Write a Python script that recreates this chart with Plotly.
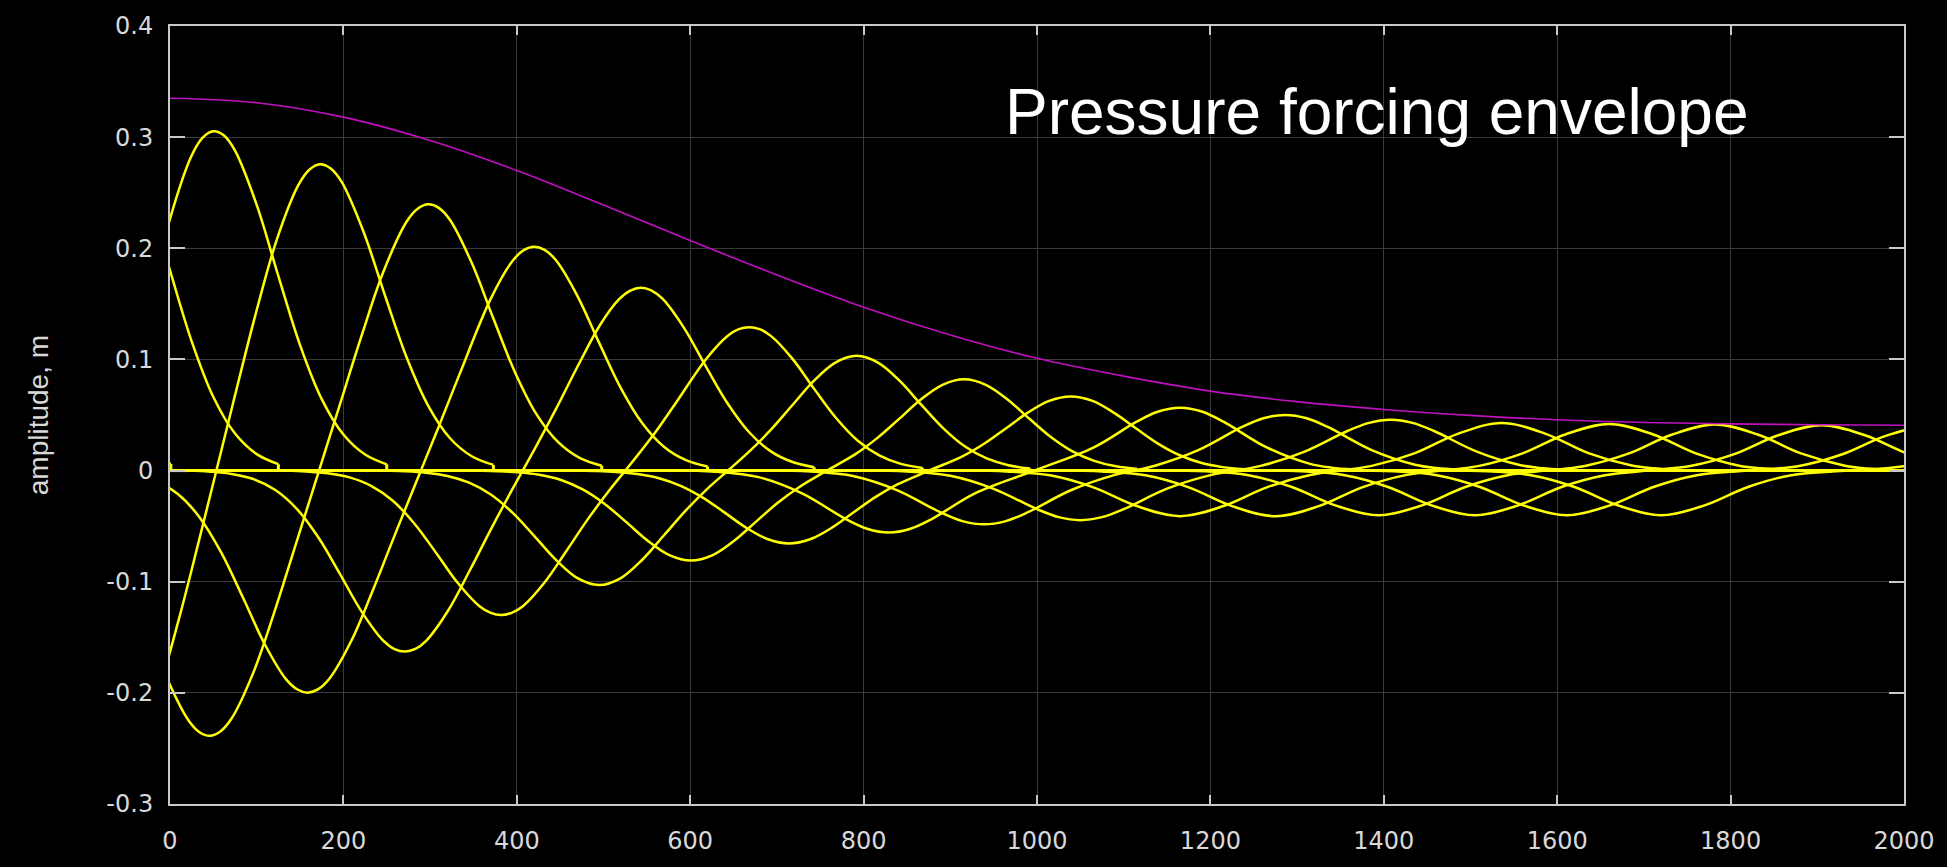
import plotly.graph_objects as go

# Axis ticks
x_ticks = [0, 200, 400, 600, 800, 1000, 1200, 1400, 1600, 1800, 2000]
x_tick_labels = ["0", "200", "400", "600", "800", "1000", "1200", "1400", "1600", "1800", "2000"]
y_ticks = [-0.3, -0.2, -0.1, 0.0, 0.1, 0.2, 0.3, 0.4]
y_tick_labels = ["-0.3", "-0.2", "-0.1", "0", "0.1", "0.2", "0.3", "0.4"]

# Pressure forcing envelope
env_x = [0, 100, 200, 300, 400, 500, 600, 700, 800, 900, 1000,
         1100, 1200, 1300, 1400, 1500, 1600, 1700, 1800, 1900, 2000]
env_y = [0.335, 0.331, 0.318, 0.297, 0.270, 0.239, 0.207, 0.176, 0.147, 0.122, 0.101,
         0.085, 0.0715, 0.062, 0.055, 0.0497, 0.0457, 0.0433, 0.0420, 0.0412, 0.0408]

# Surface snapshots: wave body of each time step (flat water added separately)
w00_x = [-249, -199, -149, -99, -49, -24, 1]
w00_y = [0.2492, 0.3200, 0.2492, 0.1177, 0.0337, 0.0150, 0.0059]

w01_x = [-125, -100, -75, -50, -25, 0, 25, 50, 75, 100, 125]
w01_y = [0.2461, 0.2969, 0.3160, 0.2969, 0.2461, 0.1801, 0.1163, 0.0662, 0.0333, 0.0148, 0.0058]

w02_x = [-125, -100, -75, -50, -25, 0, 25, 38, 50, 62, 75, 100, 125, 150, 175, 200, 225, 250]
w02_y = [-0.2121, -0.1309, -0.0396, 0.0546, 0.1460, 0.2265, 0.2835, 0.2998, 0.3053, 0.3017,
         0.2879, 0.2391, 0.1749, 0.1129, 0.0643, 0.0324, 0.0144, 0.0056]

w03_x = [-127, -102, -90, -77, -65, -53, -40, -15, 10, 35, 73, 98, 123, 148, 161, 173, 185, 198,
         223, 248, 273, 298, 323, 348, 373]
w03_y = [-0.1838, -0.2354, -0.2533, -0.2656, -0.2690, -0.2644, -0.2506, -0.2022, -0.1344,
         -0.0581, 0.0615, 0.1385, 0.2074, 0.2568, 0.2709, 0.2756, 0.2720, 0.2597, 0.2153,
         0.1575, 0.1017, 0.0580, 0.0291, 0.0129, 0.0051]

w04_x = [-204, -179, -154, -129, -104, -79, -54, -29, -4, 21, 34, 46, 58, 71, 96, 121, 146, 171,
         196, 221, 246, 273, 286, 298, 310, 323, 348, 373, 398, 423, 448, 473, 498]
w04_y = [0.0, -0.0015, -0.0044, -0.0112, -0.0252, -0.0501, -0.0879, -0.1362, -0.1861, -0.2244,
         -0.2354, -0.2386, -0.2348, -0.2231, -0.1820, -0.1257, -0.0641, -0.0023, 0.0596, 0.1214,
         0.1787, 0.2241, 0.2358, 0.2396, 0.2364, 0.2255, 0.1869, 0.1368, 0.0883, 0.0503, 0.0253,
         0.0112, 0.0044]

w05_x = [-91, -66, -41, -16, 9, 34, 59, 84, 109, 134, 147, 159, 171, 184, 209, 234, 259, 284,
         309, 334, 370, 395, 408, 420, 432, 445, 470, 495, 520, 545, 570, 595, 620]
w05_y = [0.0, -0.0013, -0.0037, -0.0094, -0.0211, -0.0419, -0.0736, -0.1140, -0.1558, -0.1879,
         -0.1970, -0.1998, -0.1967, -0.1871, -0.1534, -0.1076, -0.0585, -0.0102, 0.0377, 0.0868,
         0.1547, 0.1886, 0.1983, 0.2014, 0.1986, 0.1894, 0.1570, 0.1149, 0.0742, 0.0423, 0.0212,
         0.0094, 0.0037]

w06_x = [21, 46, 71, 96, 121, 146, 171, 196, 221, 246, 259, 271, 283, 296, 321, 346, 371, 396,
         421, 446, 471, 496, 518, 531, 543, 555, 568, 593, 618, 643, 668, 693, 718, 743]
w06_y = [0.0, -0.0010, -0.0030, -0.0076, -0.0172, -0.0342, -0.0600, -0.0929, -0.1269, -0.1531,
         -0.1607, -0.1629, -0.1605, -0.1527, -0.1257, -0.0895, -0.0515, -0.0152, 0.0200, 0.0566,
         0.0950, 0.1310, 0.1542, 0.1620, 0.1645, 0.1622, 0.1546, 0.1282, 0.0938, 0.0606, 0.0345,
         0.0173, 0.0077, 0.0030]

w07_x = [132, 157, 182, 207, 232, 257, 282, 307, 332, 357, 370, 382, 394, 407, 432, 457, 482,
         507, 532, 557, 582, 618, 643, 656, 668, 680, 693, 718, 743, 768, 793, 818, 843, 868]
w07_y = [0.0, -0.0008, -0.0024, -0.0061, -0.0137, -0.0272, -0.0478, -0.0741, -0.1012, -0.1221,
         -0.1281, -0.1300, -0.1280, -0.1220, -0.1007, -0.0726, -0.0437, -0.0175, 0.0066, 0.0315,
         0.0592, 0.1000, 0.1211, 0.1272, 0.1290, 0.1272, 0.1212, 0.1005, 0.0735, 0.0475, 0.0270,
         0.0136, 0.0060, 0.0024]

w08_x = [245, 270, 295, 320, 345, 370, 395, 420, 445, 470, 495, 520, 545, 570, 595, 620, 645,
         667, 692, 717, 742, 767, 792, 817, 842, 867, 892, 917, 942, 967, 992]
w08_y = [0.0, -0.0006, -0.0019, -0.0048, -0.0109, -0.0216, -0.0379, -0.0587, -0.0802, -0.0968,
         -0.1030, -0.0967, -0.0800, -0.0580, -0.0358, -0.0162, 0.0010, 0.0163, 0.0359, 0.0581,
         0.0802, 0.0969, 0.1032, 0.0969, 0.0804, 0.0588, 0.0380, 0.0216, 0.0109, 0.0048, 0.0019]

w09_x = [351, 376, 401, 426, 451, 476, 501, 526, 551, 576, 601, 626, 651, 676, 701, 726, 758,
         791, 816, 841, 866, 891, 916, 941, 966, 991, 1016, 1041, 1066, 1091, 1116]
w09_y = [0.0, -0.0005, -0.0015, -0.0038, -0.0085, -0.0170, -0.0298, -0.0462, -0.0631, -0.0761,
         -0.0810, -0.0761, -0.0630, -0.0459, -0.0290, -0.0148, 0.0001, 0.0150, 0.0294, 0.0465,
         0.0639, 0.0772, 0.0822, 0.0772, 0.0640, 0.0468, 0.0302, 0.0172, 0.0087, 0.0038, 0.0015]

w10_x = [464, 489, 514, 539, 564, 589, 614, 639, 664, 689, 714, 739, 764, 789, 814, 839, 876,
         914, 939, 964, 989, 1014, 1039, 1064, 1089, 1114, 1139, 1164, 1189, 1214, 1239]
w10_y = [0.0, -0.0004, -0.0012, -0.0031, -0.0069, -0.0137, -0.0241, -0.0374, -0.0511, -0.0616,
         -0.0656, -0.0616, -0.0511, -0.0373, -0.0237, -0.0125, 0.0001, 0.0128, 0.0241, 0.0379,
         0.0519, 0.0627, 0.0667, 0.0627, 0.0519, 0.0380, 0.0245, 0.0140, 0.0070, 0.0031, 0.0012]

w11_x = [579, 629, 679, 729, 779, 804, 829, 854, 879, 929, 997, 1065, 1115, 1140, 1165, 1190,
         1215, 1265, 1315, 1340, 1365]
w11_y = [0.0, -0.0010, -0.0059, -0.0205, -0.0434, -0.0523, -0.0557, -0.0523, -0.0434, -0.0203,
         0.0, 0.0206, 0.0440, 0.0531, 0.0565, 0.0531, 0.0440, 0.0208, 0.0060, 0.0026, 0.0010]

w12_x = [689, 739, 789, 839, 889, 914, 939, 964, 989, 1039, 1089, 1136, 1186, 1236, 1261, 1286,
         1311, 1336, 1386, 1436, 1461, 1486]
w12_y = [0.0, -0.0009, -0.0051, -0.0178, -0.0377, -0.0455, -0.0484, -0.0455, -0.0377, -0.0177,
         -0.0041, 0.0043, 0.0183, 0.0390, 0.0471, 0.0501, 0.0471, 0.0390, 0.0184, 0.0053,
         0.0023, 0.0009]

w13_x = [800, 850, 900, 950, 1000, 1025, 1050, 1075, 1100, 1150, 1200, 1258, 1308, 1358, 1383,
         1408, 1433, 1458, 1508, 1558, 1583, 1608]
w13_y = [0.0, -0.0008, -0.0047, -0.0164, -0.0347, -0.0419, -0.0446, -0.0419, -0.0347, -0.0163,
         -0.0041, 0.0042, 0.0168, 0.0356, 0.0429, 0.0457, 0.0429, 0.0356, 0.0168, 0.0048,
         0.0021, 0.0008]

w14_x = [915, 965, 1015, 1065, 1115, 1165, 1215, 1265, 1315, 1386, 1436, 1486, 1536, 1586, 1636,
         1686, 1711, 1736]
w14_y = [0.0, -0.0008, -0.0043, -0.0151, -0.0319, -0.0410, -0.0319, -0.0151, -0.0040,
         0.0042, 0.0157, 0.0333, 0.0428, 0.0333, 0.0157, 0.0045, 0.0020, 0.0008]

w15_x = [1025, 1075, 1125, 1175, 1225, 1275, 1325, 1375, 1425, 1510, 1560, 1610, 1660, 1710, 1760,
         1810, 1835, 1860]
w15_y = [0.0, -0.0008, -0.0043, -0.0151, -0.0320, -0.0411, -0.0320, -0.0151, -0.0041,
         0.0042, 0.0155, 0.0327, 0.0420, 0.0327, 0.0155, 0.0044, 0.0020, 0.0008]

w16_x = [1144, 1194, 1244, 1294, 1344, 1394, 1444, 1494, 1544, 1632, 1682, 1732, 1782, 1832, 1882,
         1932, 1957, 1982]
w16_y = [0.0, -0.0007, -0.0042, -0.0148, -0.0313, -0.0402, -0.0313, -0.0148, -0.0040,
         0.0042, 0.0152, 0.0322, 0.0414, 0.0322, 0.0152, 0.0044, 0.0019, 0.0008]

w17_x = [1255, 1305, 1355, 1405, 1455, 1505, 1555, 1605, 1655, 1705, 1755, 1805, 1855, 1905, 1955,
         2005, 2055, 2080, 2105]
w17_y = [0.0, -0.0007, -0.0042, -0.0148, -0.0313, -0.0402, -0.0313, -0.0148, -0.0042, 0.0,
         0.0043, 0.0150, 0.0318, 0.0408, 0.0318, 0.0150, 0.0043, 0.0019, 0.0008]

w18_x = [1361, 1411, 1461, 1511, 1561, 1611, 1661, 1711, 1761, 1820, 1879, 1929, 1979, 2029, 2079, 2129]
w18_y = [0.0, -0.0007, -0.0042, -0.0148, -0.0313, -0.0402, -0.0313, -0.0148, -0.0042, 0.0,
         0.0042, 0.0147, 0.0312, 0.0400, 0.0312, 0.0147]

w19_x = [1470, 1520, 1570, 1620, 1670, 1720, 1770, 1820, 1870, 1936, 2003, 2053, 2103]
w19_y = [0.0, -0.0007, -0.0042, -0.0148, -0.0313, -0.0402, -0.0313, -0.0148, -0.0042, 0.0,
         0.0042, 0.0147, 0.0312]

snapshots = [
    (w00_x, w00_y), (w01_x, w01_y), (w02_x, w02_y), (w03_x, w03_y), (w04_x, w04_y),
    (w05_x, w05_y), (w06_x, w06_y), (w07_x, w07_y), (w08_x, w08_y), (w09_x, w09_y),
    (w10_x, w10_y), (w11_x, w11_y), (w12_x, w12_y), (w13_x, w13_y), (w14_x, w14_y),
    (w15_x, w15_y), (w16_x, w16_y), (w17_x, w17_y), (w18_x, w18_y), (w19_x, w19_y),
]

X_MIN, X_MAX = 0, 2000
YELLOW = "#ffff00"
MAGENTA = "#c010c0"
AXIS_GREY = "#c8c8c8"
LABEL_GREY = "#d9d9d9"

fig = go.Figure()

# flat water behind each wave and ahead of its front (with the step at the front)
flat_x, flat_y = [], []
for xs, ys in snapshots:
    if xs[0] > X_MIN:
        flat_x += [X_MIN - 10, xs[0], None]
        flat_y += [0.0, 0.0, None]
    if xs[-1] < X_MAX:
        flat_x += [xs[-1], xs[-1], X_MAX + 10, None]
        flat_y += [ys[-1], 0.0, 0.0, None]

fig.add_trace(go.Scatter(
    x=flat_x, y=flat_y, mode="lines",
    line=dict(color=YELLOW, width=3, simplify=False),
    hoverinfo="skip", showlegend=False,
))

for xs, ys in snapshots:
    fig.add_trace(go.Scatter(
        x=xs, y=ys, mode="lines",
        line=dict(color=YELLOW, width=2.5, shape="spline", smoothing=1.0, simplify=False),
        hoverinfo="skip", showlegend=False,
    ))

fig.add_trace(go.Scatter(
    x=env_x, y=env_y, mode="lines",
    line=dict(color=MAGENTA, width=1.6, shape="spline", smoothing=1.0, simplify=False),
    hoverinfo="skip", showlegend=False,
))

axis_style = dict(
    showline=True, linecolor=AXIS_GREY, linewidth=2, mirror="ticks",
    ticks="inside", tickcolor=AXIS_GREY, tickwidth=1.5,
    showgrid=True, gridcolor="#3a3a3a", gridwidth=1,
    zeroline=False,
    tickfont=dict(family="DejaVu Sans, Liberation Sans, sans-serif", size=24, color=LABEL_GREY),
)

fig.update_xaxes(
    range=[X_MIN, X_MAX], tickmode="array", tickvals=x_ticks, ticktext=x_tick_labels,
    ticklen=9, ticklabelstandoff=14, **axis_style,
)
fig.update_yaxes(
    range=[-0.3, 0.4], tickmode="array", tickvals=y_ticks, ticktext=y_tick_labels,
    ticklen=15, ticklabelstandoff=10, **axis_style,
)

fig.add_annotation(
    text="Pressure forcing envelope",
    x=961, y=0.3227, xref="x", yref="y",
    xanchor="left", yanchor="middle", showarrow=False,
    font=dict(family="Liberation Sans, Arial, sans-serif", size=64, color="#ffffff"),
)

fig.add_annotation(
    text="amplitude, m",
    x=-0.076, y=0.5, xref="paper", yref="paper",
    xanchor="center", yanchor="middle", textangle=-90, showarrow=False,
    font=dict(family="Liberation Sans, Arial, sans-serif", size=28, color=LABEL_GREY),
)

fig.update_layout(
    width=1947, height=867,
    margin=dict(l=170, r=41, t=21, b=44),
    paper_bgcolor="#000000", plot_bgcolor="#000000",
    showlegend=False,
)

fig.write_html("out.html")
